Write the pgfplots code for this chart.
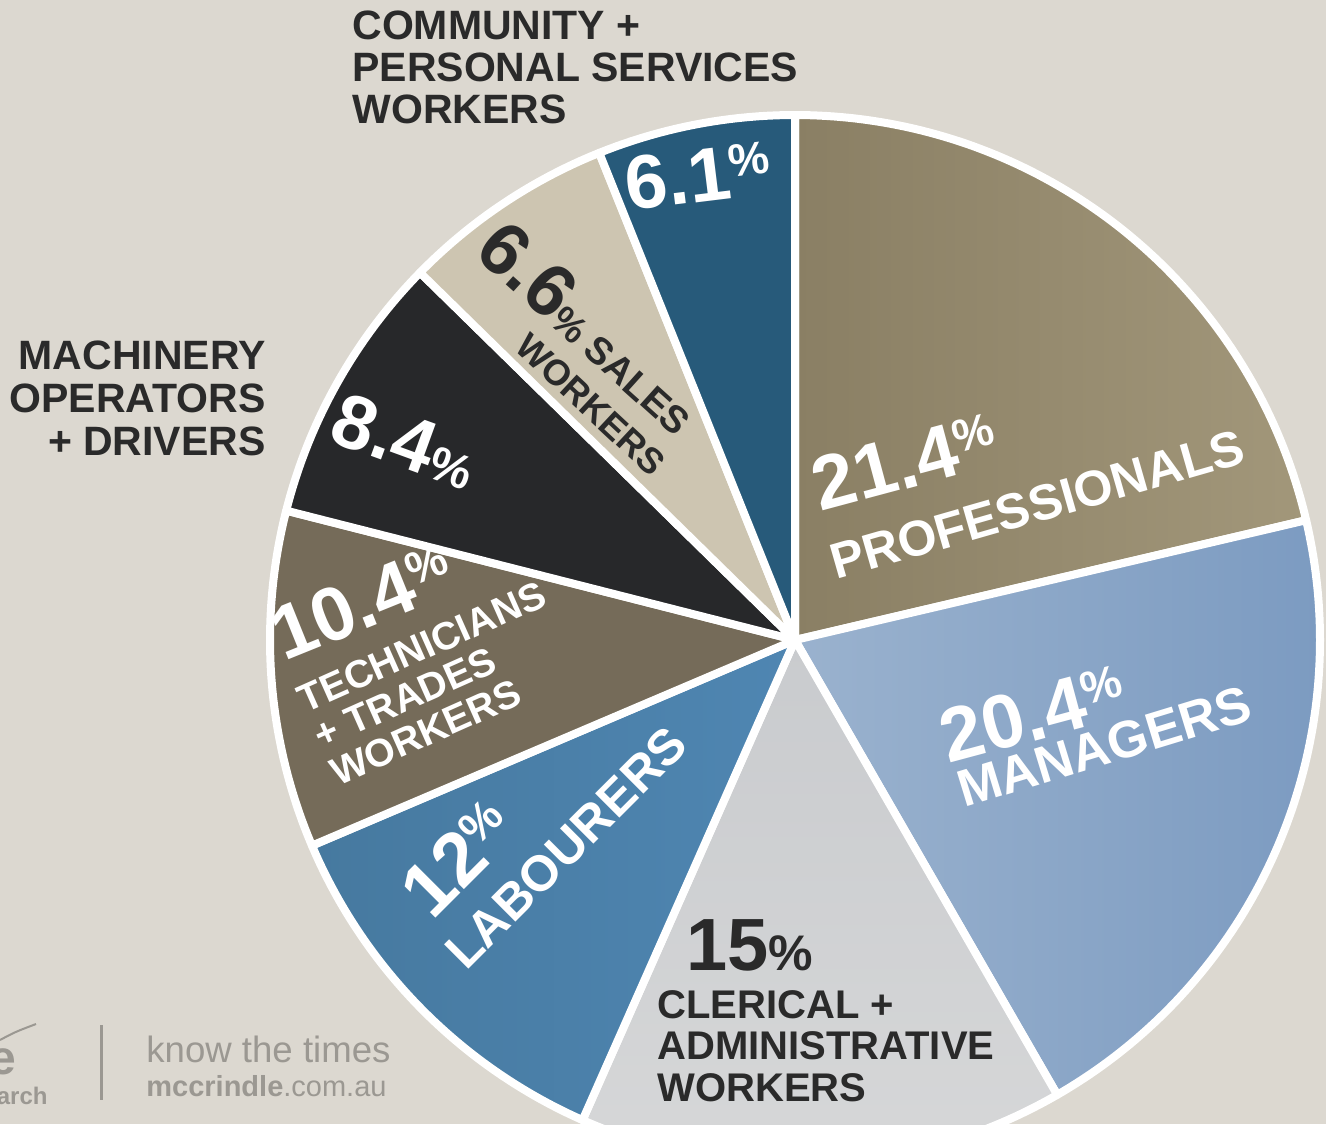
\documentclass[border=0pt]{standalone}
\usepackage{pgfplots}
\pgfplotsset{compat=1.18}
\usepackage{pgfplotstable}
\usepackage{fontspec}
\setmainfont{Liberation Sans}
\definecolor{bg}{HTML}{DCD8D0}
\definecolor{dark}{HTML}{2A2A2A}
\definecolor{logo}{HTML}{9B9892}
\definecolor{profL}{HTML}{8A7F64}
\definecolor{profR}{HTML}{A2977A}
\definecolor{manL}{HTML}{9AB2CE}
\definecolor{manR}{HTML}{7C9BC1}
\definecolor{clerL}{HTML}{C9CBCE}
\definecolor{clerR}{HTML}{D6D7D8}
\definecolor{labL}{HTML}{46799F}
\definecolor{labR}{HTML}{4F86B2}
\definecolor{techC}{HTML}{756B59}
\definecolor{machC}{HTML}{27282A}
\definecolor{salesC}{HTML}{CDC5B1}
\definecolor{commC}{HTML}{275A7A}
\tikzset{
  sProf/.style={left color=profL, right color=profR},
  sMan/.style={left color=manL, right color=manR},
  sCler/.style={top color=clerL, bottom color=clerR},
  sLab/.style={left color=labL, right color=labR},
  sTech/.style={fill=techC},
  sMach/.style={fill=machC},
  sSales/.style={fill=salesC},
  sComm/.style={fill=commC},
}
\newcommand{\fs}[1]{\fontsize{#1}{#1}\selectfont}
\newcommand{\pcu}[2]{\raisebox{#2}{\fontsize{#1}{#1}\selectfont\%}}
\pgfplotstableread{
value style
21.4 sProf
20.4 sMan
15 sCler
12 sLab
10.4 sTech
8.4 sMach
6.6 sSales
6.1 sComm
}\piedata
\begin{document}
\begin{tikzpicture}
\begin{axis}[width=663pt,height=562pt,scale only axis,
  xmin=0,xmax=1326,ymin=0,ymax=1124,y dir=reverse,
  hide axis, clip=true]
\fill[bg] (axis cs:0,0) rectangle (axis cs:1326,1124);
\gdef\sang{90}
\pgfplotsforeachungrouped \i in {0,...,7}{%
  \pgfplotstablegetelem{\i}{value}\of\piedata \let\val\pgfplotsretval
  \pgfplotstablegetelem{\i}{style}\of\piedata \let\sty\pgfplotsretval
  \pgfmathsetmacro\eang{\sang-\val*360/100.3}%
  \edef\temp{\noexpand\addplot[\sty, draw=white, line width=4pt, line join=round, domain=\eang:\sang, samples=90] ({795+525*cos(x)},{640-525*sin(x)}) -- (axis cs:795,640) -- cycle;}%
  \temp
  \global\let\sang\eang
}
% slice labels
\node[white, rotate=15, anchor=base west, inner sep=0] at (axis cs:820,512) {\fs{38}\bfseries 21.4\pcu{23}{10.5pt}};
\node[white, rotate=16, anchor=base west, inner sep=0] at (axis cs:836,580) {\fs{25}\bfseries PROFESSIONALS};
\node[white, rotate=15, anchor=base west, inner sep=0] at (axis cs:948,764) {\fs{38}\bfseries 20.4\pcu{23}{10.5pt}};
\node[white, rotate=17, anchor=base west, inner sep=0] at (axis cs:964,808) {\fs{26}\bfseries MANAGERS};
\node[dark, anchor=base west, inner sep=0] at (axis cs:686,970) {\fs{37}\bfseries 15\fs{25}\%};
\node[dark, anchor=north west, inner sep=0, align=left, font={\fontsize{20}{20.7}\selectfont\bfseries}] at (axis cs:657,990) {CLERICAL +\\ADMINISTRATIVE\\WORKERS};
\node[white, rotate=45, anchor=base west, inner sep=0] at (axis cs:432,922) {\fs{38}\bfseries 12\pcu{23}{10.5pt}};
\node[white, rotate=45, anchor=base west, inner sep=0] at (axis cs:466,972) {\fs{25}\bfseries LABOURERS};
\node[white, rotate=22, anchor=base west, inner sep=0] at (axis cs:284,662) {\fs{38}\bfseries 10.4\pcu{23}{10.5pt}};
\node[white, rotate=24, anchor=north west, inner sep=0, align=left, font={\fontsize{19.5}{20}\selectfont\bfseries}] at (axis cs:294,688) {TECHNICIANS\\+ TRADES\\WORKERS};
\node[white, rotate=-20, anchor=base west, inner sep=0] at (axis cs:326,440) {\fs{38}\bfseries 8.4\fs{24}\%};
\node[dark, rotate=-42, anchor=base west, inner sep=0] at (axis cs:472,254) {\fs{37}\bfseries 6.6\fs{19}\% SALES};
\node[dark, rotate=-43, anchor=base west, inner sep=0] at (axis cs:513,349) {\fs{18}\bfseries WORKERS};
\node[white, rotate=7, anchor=base west, inner sep=0] at (axis cs:628,211) {\fs{38}\bfseries 6.1\pcu{23}{10.5pt}};
% outside labels
\node[dark, anchor=north west, inner sep=0, align=left, font={\fontsize{20.5}{21}\selectfont\bfseries}] at (axis cs:352,10) {COMMUNITY +\\PERSONAL SERVICES\\WORKERS};
\node[dark, anchor=north east, inner sep=0, align=right, font={\fontsize{20.5}{21.5}\selectfont\bfseries}] at (axis cs:266,340) {MACHINERY\\OPERATORS\\+ DRIVERS};
% logo
\draw[logo, line width=1.5pt] (axis cs:101,1025) -- (axis cs:101,1100);
\node[logo, anchor=base west, inner sep=0] at (axis cs:146,1062) {\fs{18.3}know the times};
\node[logo, anchor=base west, inner sep=0] at (axis cs:146,1096) {\fs{14.5}\textbf{mccrindle}.com.au};
\node[logo, anchor=base east, inner sep=0] at (axis cs:17,1074) {\fs{24}\bfseries e};
\node[logo, anchor=base east, inner sep=0] at (axis cs:48,1104) {\fs{12}\bfseries arch};
\draw[logo, line width=1pt] (axis cs:0,1040) .. controls (axis cs:15,1032) .. (axis cs:36,1024);
\end{axis}
\end{tikzpicture}
\end{document}
